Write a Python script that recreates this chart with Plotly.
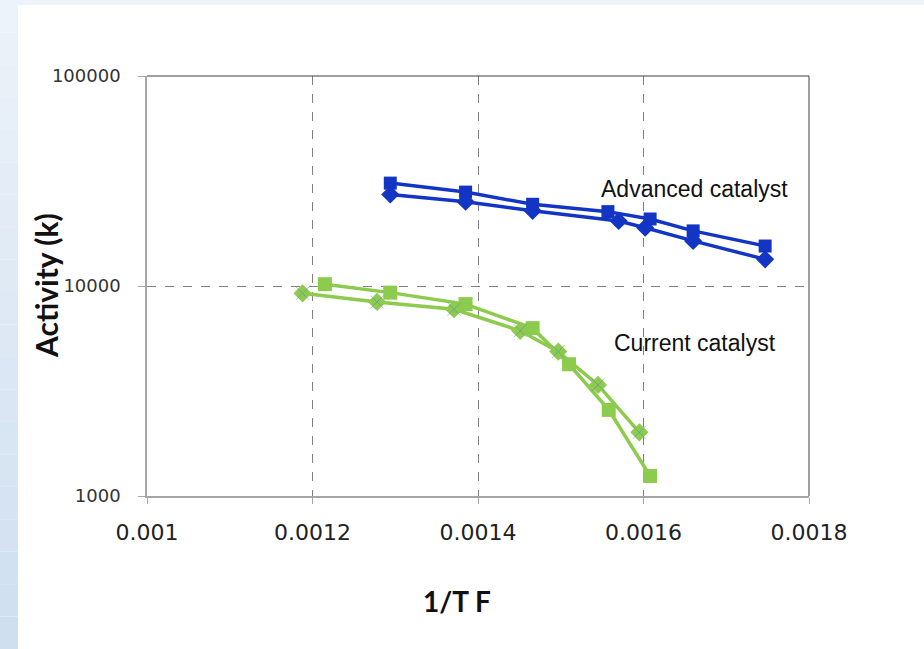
import plotly.graph_objects as go

# Advanced catalyst
adv_sq_x = [0.001294, 0.001385, 0.001466, 0.001557, 0.001608, 0.001660, 0.001747]
adv_sq_y = [30900, 28000, 24500, 22600, 20850, 18300, 15500]
adv_dm_x = [0.001294, 0.001385, 0.001466, 0.001570, 0.001602, 0.001660, 0.001747]
adv_dm_y = [27300, 25200, 22800, 20400, 18950, 16400, 13400]

# Current catalyst
cur_sq_x = [0.001215, 0.001294, 0.001385, 0.001466, 0.001510, 0.001558, 0.001608]
cur_sq_y = [10200, 9300, 8200, 6300, 4240, 2570, 1245]
cur_dm_x = [0.001188, 0.001278, 0.001371, 0.001451, 0.001497, 0.001545, 0.001595]
cur_dm_y = [9230, 8400, 7750, 6120, 4870, 3380, 2010]

x_ticks = [0.001, 0.0012, 0.0014, 0.0016, 0.0018]
x_tick_labels = ["0.001", "0.0012", "0.0014", "0.0016", "0.0018"]
y_ticks = [1000, 10000, 100000]
y_tick_labels = ["1000", "10000", "100000"]

BLUE = "#1235c4"
GREEN = "#8ccb4c"

fig = go.Figure()
fig.add_trace(go.Scatter(x=adv_sq_x, y=adv_sq_y, mode="lines+markers",
                         line=dict(color=BLUE, width=3.5),
                         marker=dict(symbol="square", size=13, color=BLUE)))
fig.add_trace(go.Scatter(x=adv_dm_x, y=adv_dm_y, mode="lines+markers",
                         line=dict(color=BLUE, width=3.5),
                         marker=dict(symbol="diamond", size=14, color=BLUE)))
fig.add_trace(go.Scatter(x=cur_sq_x, y=cur_sq_y, mode="lines+markers",
                         line=dict(color=GREEN, width=3.5),
                         marker=dict(symbol="square", size=14, color=GREEN)))
fig.add_trace(go.Scatter(x=cur_dm_x, y=cur_dm_y, mode="lines+markers",
                         line=dict(color=GREEN, width=3.5),
                         marker=dict(symbol="diamond", size=14, color=GREEN)))
fig.add_trace(go.Scatter(x=cur_dm_x, y=cur_dm_y, mode="markers",
                         marker=dict(symbol="x-thin-open", size=13,
                                     color="rgba(90,130,200,0.5)",
                                     line=dict(width=1))))

# plot area geometry (px)
L, R, T, B = 147, 809, 76, 496
W, H = 924, 649
pw, ph = R - L, B - T

def px_x(p):
    return (p - L) / pw

def px_y(p):
    return 1 - (p - T) / ph

shapes = []
# light blue frame background (left strip with gradient, top strip)
n = 20
for i in range(n):
    y0 = i * H / n
    y1 = (i + 1) * H / n
    t = i / (n - 1)
    r = int(236 - 28 * t)
    g = int(243 - 20 * t)
    b = int(250 - 10 * t)
    shapes.append(dict(type="rect", xref="paper", yref="paper",
                       x0=px_x(0), x1=px_x(18), y0=px_y(y1), y1=px_y(y0),
                       fillcolor=f"rgb({r},{g},{b})", line=dict(width=0), layer="below"))
shapes.append(dict(type="rect", xref="paper", yref="paper",
                   x0=px_x(18), x1=px_x(W), y0=px_y(5), y1=px_y(0),
                   fillcolor="rgb(238,243,249)", line=dict(width=0), layer="below"))
# top and right borders
shapes.append(dict(type="line", xref="paper", yref="paper", x0=0, x1=1, y0=1, y1=1,
                   line=dict(color="#404040", width=1)))
shapes.append(dict(type="line", xref="paper", yref="paper", x0=1, x1=1, y0=0, y1=1,
                   line=dict(color="#404040", width=1)))

fig.update_layout(
    width=W, height=H,
    margin=dict(l=L, r=W - R, t=T, b=H - B),
    paper_bgcolor="white", plot_bgcolor="white",
    showlegend=False,
    shapes=shapes,
    font=dict(family="Liberation Sans, Arial, sans-serif", color="#222222"),
    xaxis=dict(range=[0.001, 0.0018], tickvals=x_ticks, ticktext=x_tick_labels,
               showgrid=True, gridcolor="#7f7f7f", griddash="dash", gridwidth=1,
               showline=True, linecolor="#a6a6a6", linewidth=1.5,
               ticks="outside", ticklen=6, tickcolor="#a6a6a6",
               ticklabelstandoff=10,
               tickfont=dict(size=22, family="DejaVu Sans", color="#222222"),
               zeroline=False),
    yaxis=dict(type="log", range=[3, 5], tickvals=y_ticks, ticktext=y_tick_labels,
               showgrid=True, gridcolor="#7f7f7f", griddash="dash", gridwidth=1,
               showline=True, linecolor="#a6a6a6", linewidth=1.5,
               ticks="outside", ticklen=7, tickcolor="#a6a6a6",
               ticklabelstandoff=14,
               tickfont=dict(size=18, family="DejaVu Sans", color="#333333"),
               zeroline=False),
    annotations=[
        dict(x=0.001662, y=4.462, xref="x", yref="y", text="Advanced catalyst", showarrow=False,
             xanchor="center", yanchor="middle",
             font=dict(size=23, family="Liberation Sans, Arial", color="#111111")),
        dict(x=0.001662, y=3.729, xref="x", yref="y", text="Current catalyst", showarrow=False,
             xanchor="center", yanchor="middle",
             font=dict(size=23, family="Liberation Sans, Arial", color="#111111")),
        dict(x=px_x(457), y=px_y(601), xref="paper", yref="paper", text="<b>1/T F</b>",
             showarrow=False, xanchor="center", yanchor="middle",
             font=dict(size=28, family="Lato, Open Sans", color="#111111")),
        dict(x=px_x(46), y=px_y(286), xref="paper", yref="paper", text="<b>Activity (k)</b>",
             showarrow=False, xanchor="center", yanchor="middle", textangle=-90,
             font=dict(size=30, family="Lato, Open Sans", color="#111111")),
    ],
)

fig.write_html("out.html")
